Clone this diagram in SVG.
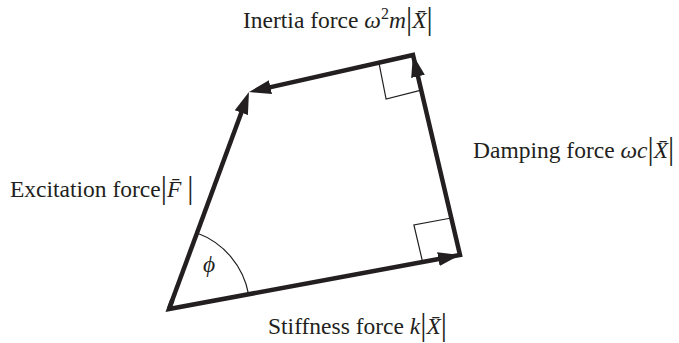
<svg xmlns="http://www.w3.org/2000/svg" width="679" height="343" viewBox="0 0 679 343">
<style>
.lbl{font-family:"Liberation Serif","Times New Roman",serif;font-size:23.5px;fill:#231f20}
.it{font-style:italic}
.bar{font-size:31px;font-style:normal}
.vec{fill:none;stroke:#231f20;stroke-width:4.5;stroke-linejoin:miter;stroke-miterlimit:10}
.thin{fill:none;stroke:#231f20;stroke-width:1.2}
</style>
<defs>
<marker id="ah" markerUnits="userSpaceOnUse" markerWidth="24" markerHeight="16" viewBox="0 -8 24 16" refX="10" refY="0" orient="auto">
<path d="M0,-7 L22,0 L0,7 Z" fill="#231f20"/>
</marker>
</defs>
<g id="connectors">
<path id="stiffness" class="vec" d="M172.5,299.6 L169,309 L448.2,257.2" marker-end="url(#ah)"/>
<path id="damping" class="vec" d="M450.2,256.8 L460,255 L415.7,66.7" marker-end="url(#ah)"/>
<path id="inertia" class="vec" d="M415.3,64.7 L413,55 L260.7,89.4" marker-end="url(#ah)"/>
<path id="excitation" class="vec" d="M169,309 L244.8,103.3" marker-end="url(#ah)"/>
<polyline class="thin" points="422.6,261.9 413.9,224.9 451.3,218"/>
<polyline class="thin" points="378.9,62.7 386.1,99 421.2,90.1"/>
<path class="thin" d="M248.6,294.3 A81,81 0 0 0 197,233"/>
</g>
<g id="label-inertia">
<text class="lbl" x="243" y="28">Inertia force <tspan class="it">ω</tspan><tspan font-size="16" dy="-9">2</tspan><tspan class="it" dy="9">m</tspan><tspan class="bar" dy="1">|</tspan><tspan class="it" dy="-1">X̄</tspan><tspan class="bar" dy="1">|</tspan></text>
</g>
<g id="label-damping">
<text class="lbl" x="473" y="158">Damping force <tspan class="it">ωc</tspan><tspan class="bar" dy="1">|</tspan><tspan class="it" dy="-1">X̄</tspan><tspan class="bar" dy="1">|</tspan></text>
</g>
<g id="label-excitation">
<text class="lbl" x="10" y="197">Excitation force<tspan class="bar" dy="1">|</tspan><tspan class="it" dy="-1">F̄</tspan> <tspan class="bar" dy="1">|</tspan></text>
</g>
<g id="label-stiffness">
<text class="lbl" x="268" y="334">Stiffness force <tspan class="it">k</tspan><tspan class="bar" dy="1">|</tspan><tspan class="it" dy="-1">X̄</tspan><tspan class="bar" dy="1">|</tspan></text>
</g>
<g id="angle">
<text class="lbl it" x="203" y="272">ϕ</text>
</g>
</svg>
